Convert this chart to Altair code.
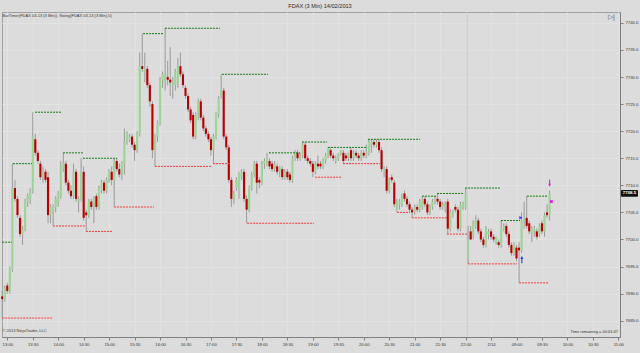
import altair as alt
import pandas as pd

# ---------------- data ----------------
opens = [7689.5,7689.0,7691.5,7690.5,7694.5,7709.5,7707.5,7704.0,7701.0,7702.0,
         7707.0,7707.5,7709.0,7718.5,7716.0,7714.0,7711.5,7712.5,7711.5,7704.5,
         7705.5,7706.0,7707.0,7708.0,7713.0,7714.0,7710.5,7709.0,7708.0,7712.5,
         7707.0,7707.5,7712.5,7705.0,7704.5,7707.0,7706.0,7708.0,7706.0,7709.0,
         7710.5,7709.0,7711.0,7712.5,7711.0,7714.5,7713.0,7712.0,7714.0,7718.0,
         7718.5,7719.0,7717.5,7716.5,7719.5,7732.0,7731.0,7731.5,7728.5,7725.0,
         7716.5,7719.0,7721.5,7729.5,7729.0,7730.0,7729.5,7728.5,7728.5,7729.0,
         7732.0,7730.5,7728.0,7726.5,7724.0,7723.0,7719.0,7722.5,7725.5,7722.5,
         7720.5,7719.5,7718.5,7716.5,7719.0,7723.0,7726.5,7727.5,7719.0,7717.0,
         7711.0,7707.5,7709.5,7709.5,7711.5,7712.5,7707.5,7705.5,7709.5,7712.0,
         7714.0,7711.0,7710.5,7714.0,7714.0,7714.5,7714.0,7713.0,7713.5,7712.5,
         7713.0,7711.5,7712.5,7712.0,7711.0,7715.0,7716.0,7715.0,7715.5,7717.5,
         7715.0,7714.5,7714.0,7712.5,7714.0,7714.0,7713.5,7714.5,7715.5,7716.5,
         7715.5,7714.5,7715.0,7716.0,7716.0,7715.5,7715.0,7716.5,7715.0,7716.0,
         7715.5,7715.0,7716.0,7715.5,7716.0,7717.5,7718.0,7717.5,7718.0,7716.5,
         7712.5,7713.0,7709.0,7711.5,7710.5,7705.5,7706.5,7706.5,7708.5,7707.5,
         7706.5,7705.5,7705.0,7706.0,7705.5,7706.0,7707.5,7706.5,7705.0,7706.0,
         7707.0,7707.5,7707.0,7706.0,7706.0,7707.0,7702.0,7704.5,7706.0,7705.5,
         7702.0,7706.0,7706.0,7696.5,7701.5,7700.5,7702.5,7703.5,7701.5,7700.0,
         7699.0,7701.0,7701.5,7700.5,7699.5,7699.5,7699.0,7702.0,7702.5,7701.0,
         7699.0,7697.5,7698.5,7698.5,7698.0,7703.5,7704.0,7703.0,7701.0,7701.5,
         7701.5,7701.0,7703.0,7701.5,7705.0,7704.5]
highs = [7690.5,7691.5,7692.0,7695.0,7714.0,7711.0,7708.0,7704.5,7702.5,7707.5,
         7708.5,7709.5,7723.5,7719.5,7716.5,7714.5,7713.5,7713.0,7712.5,7706.5,
         7706.5,7708.0,7709.0,7714.5,7716.0,7714.5,7711.0,7710.0,7714.0,7713.0,
         7708.0,7715.0,7713.5,7705.5,7707.5,7707.5,7708.0,7708.5,7710.0,7711.0,
         7711.0,7711.5,7713.0,7713.5,7715.0,7715.0,7714.0,7714.5,7720.5,7720.0,
         7719.5,7719.5,7718.0,7720.0,7734.5,7738.0,7734.5,7732.0,7729.0,7725.5,
         7719.5,7722.0,7730.0,7731.0,7739.0,7733.0,7735.5,7730.0,7731.5,7733.5,
         7734.5,7731.0,7728.5,7727.0,7724.5,7723.5,7723.5,7726.0,7726.0,7723.0,
         7721.0,7720.0,7719.0,7719.5,7723.5,7726.5,7730.5,7728.0,7719.5,7717.5,
         7711.5,7709.0,7711.5,7712.5,7713.0,7713.0,7708.0,7710.0,7712.5,7714.5,
         7714.5,7711.5,7714.5,7715.0,7716.0,7715.0,7714.5,7714.5,7714.0,7713.5,
         7713.5,7713.0,7713.0,7712.5,7715.5,7716.5,7716.5,7716.0,7718.0,7718.0,
         7715.5,7715.0,7714.5,7714.5,7715.5,7714.5,7715.0,7716.0,7717.0,7717.0,
         7716.0,7715.5,7716.0,7716.5,7716.5,7716.0,7716.0,7717.0,7716.5,7716.5,
         7716.0,7716.5,7716.5,7717.5,7718.5,7718.5,7718.5,7718.5,7718.5,7717.0,
         7713.5,7713.5,7711.5,7712.0,7711.0,7707.5,7707.5,7708.5,7709.0,7708.0,
         7707.0,7706.0,7706.5,7706.5,7707.5,7708.0,7708.0,7707.0,7706.5,7707.5,
         7708.0,7708.5,7707.5,7707.0,7707.0,7707.5,7705.5,7705.5,7706.5,7706.0,
         7707.0,7707.0,7709.5,7702.5,7702.5,7703.5,7704.5,7704.0,7702.0,7700.5,
         7702.5,7702.0,7702.0,7701.0,7700.5,7700.0,7703.5,7703.0,7703.0,7701.5,
         7699.5,7699.5,7699.0,7699.5,7705.0,7707.0,7708.0,7703.5,7702.5,7702.5,
         7702.0,7703.0,7703.5,7705.0,7706.5,7709.0]
lows = [7685.5,7688.5,7690.0,7690.0,7694.0,7707.0,7704.0,7700.5,7699.0,7701.5,
        7706.0,7706.5,7708.5,7715.5,7714.0,7711.0,7710.5,7710.5,7703.0,7703.0,
        7702.5,7705.0,7706.0,7707.5,7712.5,7710.0,7708.5,7707.5,7707.5,7707.0,
        7705.0,7707.0,7703.5,7701.5,7704.0,7705.5,7703.0,7705.5,7705.5,7708.5,
        7708.5,7708.5,7710.5,7710.0,7706.0,7712.5,7711.5,7711.0,7712.0,7717.5,
        7718.0,7717.0,7714.5,7716.0,7719.0,7731.0,7729.0,7728.0,7724.5,7715.0,
        7713.5,7718.0,7721.0,7728.0,7727.5,7728.5,7726.5,7726.0,7727.5,7728.0,
        7730.0,7728.0,7726.0,7723.5,7721.5,7718.5,7718.5,7722.0,7722.0,7720.0,
        7719.0,7718.0,7715.5,7714.0,7718.5,7722.5,7726.0,7718.5,7716.5,7710.5,
        7706.0,7706.5,7709.0,7707.5,7711.0,7707.0,7703.0,7705.0,7709.0,7711.5,
        7708.5,7709.5,7710.0,7713.0,7713.5,7713.0,7712.5,7712.5,7712.0,7711.5,
        7711.0,7711.0,7711.0,7710.5,7710.5,7714.5,7714.5,7714.5,7715.0,7714.5,
        7714.0,7713.5,7711.5,7712.0,7713.0,7713.0,7713.0,7714.0,7715.0,7715.0,
        7714.5,7714.0,7714.5,7715.5,7714.0,7714.5,7714.5,7714.5,7714.5,7715.0,
        7714.5,7714.5,7715.0,7715.0,7715.5,7716.0,7717.0,7717.0,7716.0,7712.5,
        7711.5,7708.5,7708.5,7710.5,7706.0,7705.0,7705.5,7706.0,7707.0,7706.0,
        7705.0,7704.0,7704.5,7705.0,7705.0,7705.5,7706.0,7704.5,7704.5,7705.5,
        7706.5,7706.5,7705.5,7705.5,7705.0,7701.0,7701.5,7704.0,7705.0,7701.5,
        7701.5,7705.5,7705.5,7695.5,7700.0,7700.0,7702.0,7701.0,7699.5,7698.5,
        7698.5,7700.0,7700.0,7699.5,7699.0,7698.5,7698.5,7701.5,7700.5,7698.5,
        7697.0,7697.0,7696.0,7692.0,7697.5,7702.0,7702.0,7701.0,7699.5,7700.5,
        7700.0,7700.5,7701.0,7700.5,7704.0,7703.5]
closes = [7689.0,7691.0,7690.5,7694.5,7709.5,7707.5,7704.5,7701.0,7702.0,7707.0,
          7708.0,7709.0,7719.0,7716.0,7714.5,7711.5,7712.5,7711.0,7704.5,7706.0,
          7706.0,7707.5,7708.5,7713.5,7714.0,7710.5,7709.0,7708.0,7712.5,7707.5,
          7707.5,7712.5,7704.0,7704.5,7707.0,7706.0,7707.5,7706.0,7709.5,7710.5,
          7709.0,7711.0,7712.5,7711.0,7714.5,7713.0,7712.0,7714.0,7718.0,7719.5,
          7719.0,7717.5,7716.5,7719.5,7732.0,7731.5,7731.5,7728.5,7725.5,7716.5,
          7719.0,7721.5,7729.5,7730.5,7730.5,7729.5,7729.0,7729.0,7731.0,7732.0,
          7730.5,7728.5,7726.5,7724.0,7722.0,7719.0,7723.0,7725.5,7722.5,7720.5,
          7719.5,7718.5,7716.5,7719.0,7723.0,7726.0,7727.5,7719.0,7717.0,7711.0,
          7707.5,7708.5,7711.0,7712.0,7712.5,7707.5,7705.5,7709.5,7712.0,7714.0,
          7710.5,7710.5,7714.0,7714.5,7715.0,7713.5,7713.0,7714.0,7712.5,7713.5,
          7711.5,7712.5,7711.5,7711.0,7715.0,7716.0,7715.0,7715.5,7717.5,7715.0,
          7714.5,7714.0,7712.5,7714.0,7713.5,7713.5,7714.5,7715.5,7717.0,7715.5,
          7715.0,7715.0,7716.0,7716.5,7714.5,7715.0,7716.0,7715.0,7716.0,7715.5,
          7715.0,7716.0,7715.5,7716.0,7718.0,7718.0,7717.5,7718.0,7716.5,7713.0,
          7713.0,7709.0,7711.0,7711.0,7706.5,7707.0,7707.0,7708.0,7707.5,7706.5,
          7705.5,7705.0,7706.0,7705.5,7707.0,7707.5,7706.5,7705.0,7706.0,7707.0,
          7707.5,7707.0,7706.0,7706.5,7706.5,7702.0,7705.0,7705.0,7705.5,7702.0,
          7706.5,7706.5,7708.5,7700.0,7700.0,7703.0,7703.5,7701.5,7700.0,7699.0,
          7702.0,7701.5,7700.5,7700.0,7700.5,7699.0,7702.0,7702.5,7701.0,7699.0,
          7697.5,7699.0,7696.5,7698.0,7703.5,7704.0,7702.5,7701.5,7702.0,7702.0,
          7700.5,7702.5,7701.5,7704.5,7704.5,7708.5]

# time axis labels (one label every 10 three-minute bars)
time_labels = ["13:00","13:30","14:00","14:30","15:00","15:30","16:00","16:30","17:00",
               "17:30","18:00","18:30","19:00","19:30","20:00","20:30","21:00","21:30",
               "22:00","2/14","09:00","09:30","10:00","10:30","11:00"]
time_label_bars = [2 + 10 * k for k in range(len(time_labels))]
price_ticks = [7685.0,7690.0,7695.0,7700.0,7705.0,7710.0,7715.0,7720.0,7725.0,7730.0,7735.0,7740.0]
session_break_bar = [182.6]

# swing indicator lines
hi_start = [0,4.2,12.9,23.9,31.7,55.3,63.9,86.3,104.8,117.8,128,143.7,164.9,170.8,181.8,195.9,206.1]
hi_end   = [3.8,11.7,23.5,31.7,45.1,63.6,85.5,104.4,117,127.6,143.3,164.1,170.4,181,195.5,203.4,214.4]
hi_price = [7699.5,7714.0,7723.5,7716.0,7715.0,7738.0,7739.0,7730.5,7716.0,7718.0,7717.0,
            7718.5,7708.0,7708.5,7709.5,7703.5,7708.0]
lo_start = [0,20,32.9,43.9,60,82.8,96.2,122.9,133.9,155.1,160.9,174.7,183,203]
lo_end   = [19.6,32.5,43.5,59.6,82.4,89.5,122.5,133.5,148.4,160.2,174.7,182.6,202.2,214.4]
lo_price = [7685.5,7702.5,7701.5,7706.0,7713.5,7714.0,7703.0,7711.5,7714.0,7705.0,7704.0,
            7701.0,7695.5,7692.0]

# trade / alert markers
mk_bar = [204.1, 203.7, 215.0, 215.7]
mk_price = [7696.3, 7704.0, 7710.4, 7707.0]
mk_shape = ["arrow", "triangle-right", "arrow", "square"]
mk_angle = [0, 0, 180, 0]
mk_color = ["#1f3cff", "#1f3cff", "#e21ee0", "#e21ee0"]
mk_size = [55, 12, 55, 8]

# ---------------- tables ----------------
bars = pd.DataFrame({"bar": list(range(len(opens))), "open": opens, "high": highs,
                     "low": lows, "close": closes})
bars["dir"] = ["up" if c >= o else "down" for o, c in zip(opens, closes)]

swings = pd.DataFrame({
    "start": hi_start + lo_start,
    "end": hi_end + lo_end,
    "price": hi_price + lo_price,
    "kind": ["high"] * len(hi_start) + ["low"] * len(lo_start),
})
marks = pd.DataFrame({"bar": mk_bar, "price": mk_price, "shape": mk_shape,
                      "angle": mk_angle, "color": mk_color, "size": mk_size})
last = pd.DataFrame({"price": [closes[-1]], "label": [f"{closes[-1]:.1f}"]})
brk = pd.DataFrame({"bar": session_break_bar})

xs = alt.Scale(domain=[-0.08, 242.65], nice=False, zero=False)
ys = alt.Scale(domain=[7682.0, 7742.0], nice=False, zero=False)

FONT = "Liberation Sans"
label_array = "[" + ",".join(f"'{t}'" for t in time_labels) + "]"
x_axis = alt.Axis(values=time_label_bars, labelExpr=f"{label_array}[round((datum.value-2)/10)]",
                  grid=True, gridColor="#e2e2e2", gridWidth=1, tickSize=3, tickColor="#808080",
                  domainColor="#808080", labelFontSize=4.2, labelColor="#333333",
                  labelFont=FONT, labelPadding=2, title=None, labelFlush=False)
y_axis = alt.Axis(orient="right", values=price_ticks, format=".1f", grid=True,
                  gridColor="#e2e2e2", tickSize=3, tickColor="#808080", domainColor="#808080",
                  labelFontSize=4.2, labelColor="#333333", labelFont=FONT,
                  labelPadding=2, title=None, labelFlush=False)


def X(field):
    return alt.X(field, scale=xs, axis=x_axis)


def Y(field):
    return alt.Y(field, scale=ys, axis=y_axis)


session = alt.Chart(brk).mark_rule(color="#c8c8c8", strokeWidth=1).encode(x=X("bar:Q"))

wicks = alt.Chart(bars).mark_rule(color="#9a9a9a", strokeWidth=1).encode(
    x=X("bar:Q"), y=Y("low:Q"), y2="high:Q",
)

bodies = alt.Chart(bars).transform_calculate(
    x0="datum.bar - 0.42", x1="datum.bar + 0.42"
).mark_rect().encode(
    x=X("x0:Q"), x2="x1:Q",
    y=Y("open:Q"), y2="close:Q",
    color=alt.Color("dir:N", scale=alt.Scale(domain=["up", "down"], range=["#9fd498", "#b80000"]),
                    legend=None),
)

swing_lines = alt.Chart(swings).mark_rule(strokeDash=[2, 1], strokeWidth=1).encode(
    x=X("start:Q"), x2="end:Q", y=Y("price:Q"),
    color=alt.Color("kind:N", scale=alt.Scale(domain=["high", "low"], range=["#127a12", "#ff3a3a"]),
                    legend=None),
)

markers = alt.Chart(marks).mark_point(filled=True, opacity=1).encode(
    x=X("bar:Q"), y=Y("price:Q"),
    shape=alt.Shape("shape:N", scale=None),
    angle=alt.Angle("angle:Q", scale=None),
    color=alt.Color("color:N", scale=None),
    size=alt.Size("size:Q", scale=None),
)

tag_box = alt.Chart(last).transform_calculate(
    p1="datum.price + 0.62", p2="datum.price - 0.62"
).mark_rect(color="#111111", cornerRadius=1).encode(
    x=alt.value(619), x2=alt.value(636),
    y=Y("p1:Q"), y2="p2:Q",
)
tag_text = alt.Chart(last).mark_text(color="white", fontSize=4.4, font=FONT, align="center",
                                     baseline="middle", fontWeight="bold").encode(
    x=alt.value(627.5), y=Y("price:Q"), text="label:N"
)


def note(txt, x, y, size, align="left", color="#333333"):
    return alt.Chart(pd.DataFrame({"t": [txt]})).mark_text(
        fontSize=size, font=FONT, align=align, baseline="middle", color=color
    ).encode(x=alt.value(x), y=alt.value(y), text="t:N")


title = note("FDAX (3 Min)  14/02/2013", 318, -6, 5.6, align="center", color="#2a2a2a")
top_left = note("BarTimer(FDAX 03-13 (3 Min)), Swing(FDAX 03-13 (3 Min),5)", 0.5, 3.5, 4)
copyright_ = note("\u00a9 2013 NinjaTrader, LLC", 0.5, 319, 4)
remaining = note("Time remaining = 00:01:47", 616, 319.5, 4, align="right")
icon = note("\u25b7|", 606, 5, 7, color="#555555")

chart = alt.layer(
    session, wicks, bodies, swing_lines, markers, tag_box, tag_text,
    title, top_left, copyright_, remaining, icon
).resolve_scale(color="independent").properties(
    width=618, height=325,
    autosize=alt.AutoSizeParams(type="none"),
    padding={"left": 2, "top": 12, "right": 20, "bottom": 16},
    background="#dcdcdc",
).configure_view(fill="#dcdcdc", stroke="#a0a0a0", strokeWidth=1)

chart.save("out.html", embed_options={"renderer": "svg", "actions": False})
